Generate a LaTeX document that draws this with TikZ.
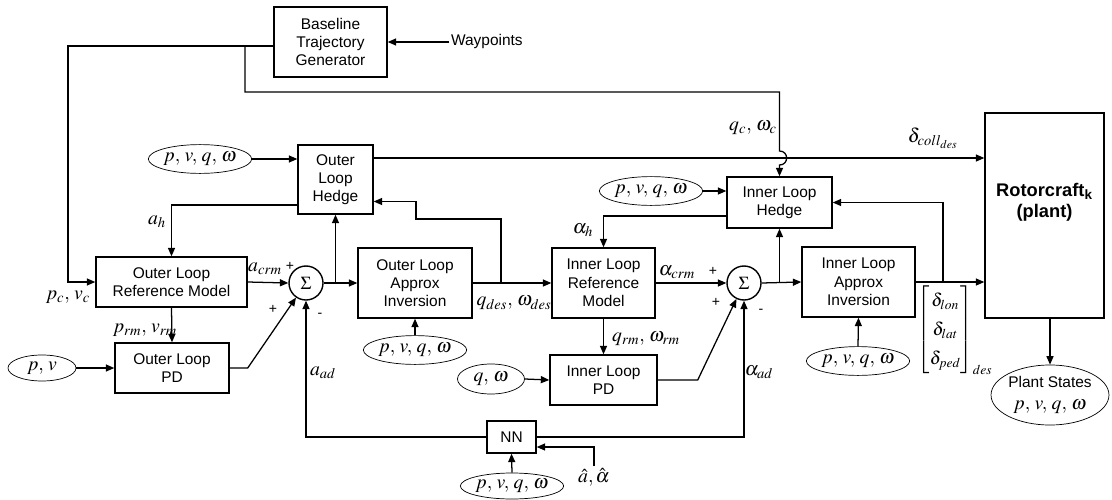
\documentclass[tikz,border=0pt]{standalone}
\usepackage{mathptmx}
\usepackage{fontspec}
\setmainfont{Liberation Sans}
\usetikzlibrary{arrows.meta,shapes.geometric,calc}

\begin{document}
\begin{tikzpicture}[x=0.025cm,y=-0.025cm,line width=0.9pt,>={Triangle[length=6pt,width=5pt]},
blk/.style={draw,line width=1pt,align=center,font=\fontsize{11}{13}\selectfont,inner sep=1pt},
sig/.style={draw,ellipse,line width=0.5pt,inner sep=0pt,font=\fontsize{14}{16}\selectfont,minimum width=2.35cm,minimum height=0.72cm},
sumnode/.style={draw,circle,line width=1pt,minimum size=0.85cm,inner sep=0pt,font=\fontsize{13}{15}\selectfont},
lbl/.style={inner sep=1pt,font=\fontsize{14}{16}\selectfont},
sgn/.style={inner sep=0pt,font=\fontsize{10}{12}\selectfont}]
\useasboundingbox (0,0) rectangle (1112,500);
% blocks
\node[blk,minimum width=2.825cm,minimum height=1.75cm] (base) at (330.5,42) {Baseline\\Trajectory\\Generator};
\node[inner sep=1pt,font=\fontsize{11}{13}\selectfont,anchor=west] (wp) at (449,42) {Waypoints};
\node[blk,minimum width=1.875cm,minimum height=1.725cm] (ohedge) at (335.5,179.5) {Outer\\Loop\\Hedge};
\node[blk,minimum width=3.775cm,minimum height=1.25cm] (oref) at (171.5,282) {Outer Loop\\Reference Model};
\node[blk,minimum width=2.85cm,minimum height=1.25cm] (opd) at (172,368) {Outer Loop\\PD};
\node[blk,minimum width=2.85cm,minimum height=1.75cm] (oinv) at (415,283) {Outer Loop\\Approx\\Inversion};
\node[blk,minimum width=2.575cm,minimum height=1.75cm] (iref) at (603.5,283) {Inner Loop\\Reference\\Model};
\node[blk,minimum width=2.625cm,minimum height=1.275cm] (ihedge) at (779.5,202.5) {Inner Loop\\Hedge};
\node[blk,minimum width=2.675cm,minimum height=1.25cm] (ipd) at (603.5,380) {Inner Loop\\PD};
\node[blk,minimum width=2.825cm,minimum height=1.75cm] (iinv) at (858.5,282) {Inner Loop\\Approx\\Inversion};
\node[blk,minimum width=1.225cm,minimum height=0.8cm] (nn) at (511.5,437) {NN};
\node[blk,minimum width=2.975cm,minimum height=5.125cm,font=\fontsize{13}{15.5}\selectfont\bfseries] (plant) at (1044.5,215.5) {Rotorcraft\textsubscript{k}\\(plant)\\[6pt]};
\node[sumnode] (s1) at (306,283) {$\Sigma$};
\node[sumnode] (s2) at (744,283) {$\Sigma$};
% signals
\node[sig] (e1) at (200,159) {$p,\,v,\,q,\,\omega$};
\node[sig,minimum width=1.7cm,minimum height=0.65cm] (epv) at (42,368) {$p,\,v$};
\node[sig] (e3) at (415,350) {$p,\,v,\,q,\,\omega$};
\node[sig] (e4) at (651,191) {$p,\,v,\,q,\,\omega$};
\node[sig,minimum width=1.675cm,minimum height=0.75cm] (eqw) at (491,379) {$q,\,\omega$};
\node[sig] (e6) at (858,361) {$p,\,v,\,q,\,\omega$};
\node[sig,minimum height=0.65cm] (e7) at (512,486) {$p,\,v,\,q,\,\omega$};
\node[sig,align=center,minimum width=2.675cm,minimum height=1.5cm] (pst) at (1050,395) {{\fontsize{11}{13}\selectfont Plant States}\\$p,\,v,\,q,\,\omega$};
% labels
\node[lbl] (qc) at (753,128) {$q_c,\,\omega_c$};
\node[lbl] (dcoll) at (933,138) {$\delta_{coll_{des}}$};
\node[lbl] (ah) at (157,222) {$a_h$};
\node[lbl] (pcvc) at (68,297) {$p_c,\,v_c$};
\node[lbl] (acrm) at (265,269) {$a_{crm}$};
\node[lbl] (prm) at (145,330) {$p_{rm},\,v_{rm}$};
\node[lbl] (aad) at (323,373) {$a_{ad}$};
\node[lbl] (qdes) at (514,303) {$q_{des},\,\omega_{des}$};
\node[lbl] (alh) at (583,230) {$\alpha_h$};
\node[lbl] (alcrm) at (677,272) {$\alpha_{crm}$};
\node[lbl] (qrm) at (646,339) {$q_{rm},\,\omega_{rm}$};
\node[lbl] (alad) at (759,372) {$\alpha_{ad}$};
\node[lbl] (ahat) at (594,477) {$\hat a,\hat\alpha$};
\node[lbl,font=\fontsize{13}{16}\selectfont] (dvec) at (955,330) {$\renewcommand\arraystretch{1.3}\left[\begin{array}{@{}c@{}}\delta_{lon}\\ \delta_{lat}\\ \delta_{ped}\end{array}\right]_{des}$};
\foreach \n/\p/\s in {sa/{290,266}/+,sb/{273,309}/+,sc/{320,315}/-,sd/{713,271}/+,se/{716,302}/+,sf/{761,311}/-}
  \node[sgn] (\n) at (\p) {\s};
% connectors
\coordinate (cl) at (68,46);
\coordinate (bt) at (245,46);
\coordinate (tp) at (779.5,92);
\coordinate (dc) at ($(ohedge.east)+(0,-21.5)$);
\coordinate (j1) at (ohedge.south |- s1.east);
\coordinate (j2) at (501,283);
\coordinate (j3) at (ihedge.south |- s2.east);
\coordinate (j4) at (943,282);
\draw[->] (wp) -- (wp -| base.east);
\draw[->] ($(base.west)+(0,4)$) -- (cl) |- (oref.west);
\draw[->] (bt) |- (tp) -- (779.5,151) .. controls (789,151) and (789,165) .. (779.5,165) -- (ihedge.north);
\draw[->] (e1.east) -- (e1.east -| ohedge.west);
\draw[->] ($(ohedge.west)+(0,25.5)$) -| (oref.north);
\draw[->] (oref.east) -- (s1.west);
\draw[->] (oref.south) -- (opd.north);
\draw[->] (epv.east) -- (opd.west);
\draw[->] (opd.east) -- ++(18,0) -- (s1);
\draw[->] (s1.east) -- (oinv.west);
\draw[->] (j1) -- (ohedge.south);
\draw[->] (e3.north) -- (oinv.south);
\draw[->] (oinv.east) -- (iref.west);
\draw[->] (j2) |- (416,219) |- ($(ohedge.east)+(0,22)$);
\draw[->] (dc) -- (dc -| plant.west);
\draw[->] (e4.east) -- (e4.east -| ihedge.west);
\draw[->] ($(ihedge.west)+(0,13.5)$) -| (iref.north);
\draw[->] (iref.east) -- (s2.west);
\draw[->] (iref.south) -- (ipd.north);
\draw[->] (eqw.east) -- (ipd.west);
\draw[->] (ipd.east) -- ++(40,0) -- (s2);
\draw[->] (s2.east) -- (iinv.west);
\draw[->] (j3) -- (ihedge.south);
\draw[->] (e6.north) -- (iinv.south);
\draw[->] (iinv.east) -- (iinv.east -| plant.west);
\draw[->] (j4) |- (ihedge.east);
\draw[->] (plant.south -| pst.north) -- (pst.north);
\draw[->] (nn.west) -| (s1.south);
\draw[->] (nn.east) -| (s2.south);
\draw[->] (ahat.north) |- ($(nn.east)+(0,10)$);
\draw[->] (e7.north) -- (nn.south);
\end{tikzpicture}
\end{document}
